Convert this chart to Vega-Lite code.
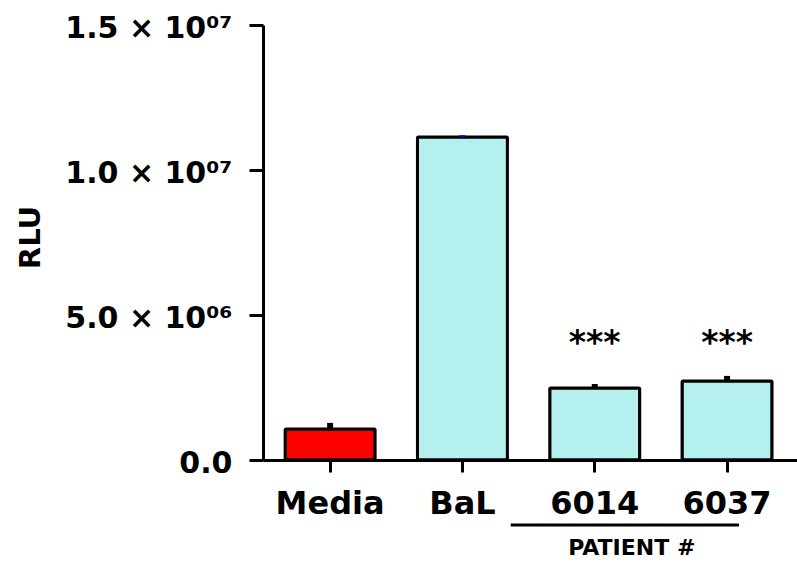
{
  "$schema": "https://vega.github.io/schema/vega-lite/v6.json",
  "width": 534,
  "height": 435,
  "autosize": {"type": "none"},
  "padding": {"left": 263, "top": 25, "right": 0, "bottom": 105},
  "background": "white",
  "config": {
    "view": {"stroke": null},
    "font": "DejaVu Sans",
    "axis": {"grid": false, "domainColor": "black", "tickColor": "black", "labelColor": "black", "titleColor": "black", "labelFont": "DejaVu Sans", "titleFont": "DejaVu Sans"}
  },
  "data": {
    "values": [
      {"group": "Media", "value": 1070000, "upper": 1280000, "kind": "control", "err": "black", "sig": ""},
      {"group": "BaL", "value": 11140000, "upper": 11200000, "kind": "virus", "err": "blue", "sig": ""},
      {"group": "6014", "value": 2480000, "upper": 2620000, "kind": "virus", "err": "black", "sig": "***"},
      {"group": "6037", "value": 2720000, "upper": 2900000, "kind": "virus", "err": "black", "sig": "***"}
    ]
  },
  "encoding": {
    "x": {
      "field": "group", "type": "nominal", "sort": null,
      "scale": {"paddingInner": 0.32, "paddingOuter": 0.178, "align": 0.47},
      "axis": {"title": null, "labelAngle": 0, "labelFontSize": 32, "labelFontWeight": "bold", "labelPadding": 16, "tickSize": 12, "tickWidth": 3, "domainWidth": 3}
    }
  },
  "layer": [
    {
      "mark": {"type": "bar", "stroke": "black", "strokeWidth": 3, "cornerRadius": 1},
      "encoding": {
        "y": {
          "field": "value", "type": "quantitative",
          "scale": {"domain": [0, 15000000], "nice": false},
          "axis": {
            "title": "RLU", "titleFontSize": 29, "titleFontWeight": "bold", "titleAngle": -90, "titleX": -218, "titleY": 212, "titleBaseline": "bottom", "titleAlign": "center",
            "values": [0, 5000000, 10000000, 15000000],
            "labelExpr": "datum.value == 0 ? '0.0' : datum.value == 5000000 ? '5.0 × 10⁰⁶' : datum.value == 10000000 ? '1.0 × 10⁰⁷' : '1.5 × 10⁰⁷'",
            "labelFontSize": 30, "labelFontWeight": "bold", "labelPadding": 17, "labelBaseline": "middle", "labelOffset": 3, "tickSize": 14, "tickWidth": 3, "domainWidth": 3
          }
        },
        "fill": {"field": "kind", "type": "nominal", "scale": {"domain": ["control", "virus"], "range": ["#ff0000", "#b4f0ee"]}, "legend": null}
      }
    },
    {
      "mark": {"type": "rule", "strokeWidth": 6},
      "encoding": {
        "y": {"field": "value", "type": "quantitative"},
        "y2": {"field": "upper"},
        "color": {"field": "err", "type": "nominal", "scale": null}
      }
    },
    {
      "mark": {"type": "text", "fontSize": 33, "fontWeight": "bold", "baseline": "alphabetic", "align": "center", "color": "black"},
      "encoding": {
        "y": {"datum": 3640000},
        "text": {"field": "sig"}
      }
    },
    {
      "data": {"values": [{"a": "6014", "b": "6037"}]},
      "layer": [
        {
          "mark": {"type": "rule", "strokeWidth": 3, "color": "black", "xOffset": -84, "x2Offset": 12},
          "encoding": {
            "x": {"field": "a", "type": "nominal"},
            "x2": {"field": "b"},
            "y": {"datum": -2240000}
          }
        },
        {
          "mark": {"type": "text", "text": "PATIENT #", "fontSize": 22, "fontWeight": "bold", "align": "center", "baseline": "alphabetic", "dx": 37, "color": "black"},
          "encoding": {
            "x": {"field": "a", "type": "nominal"},
            "y": {"datum": -3276000}
          }
        }
      ]
    }
  ]
}
